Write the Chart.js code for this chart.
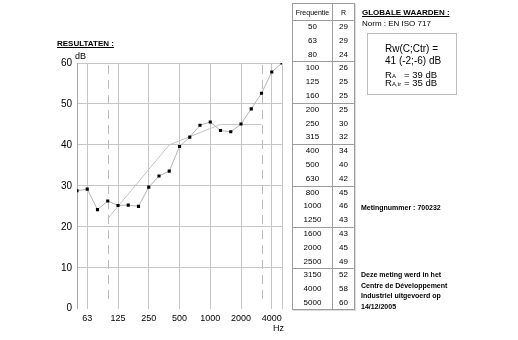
<!DOCTYPE html>
<html><head><meta charset="utf-8">
<script src="https://cdn.jsdelivr.net/npm/chart.js@4/dist/chart.umd.min.js"></script>
<style>
html,body{margin:0;padding:0;background:#fff;}
body{width:518px;height:340px;position:relative;overflow:hidden;font-family:"Liberation Sans",Arial,sans-serif;color:#000;}
#c{position:absolute;left:0;top:0;}
.abs{position:absolute;white-space:nowrap;}
.b{font-weight:bold;}
.u{text-decoration:underline;}
#tbl{position:absolute;left:292px;top:3px;width:63px;height:307px;box-sizing:border-box;border:1px solid #9c9c9c;box-shadow:1px 1px 0 #dcdcdc;}
.hl{position:absolute;left:0;right:0;height:0;border-top:1px solid #9c9c9c;}
.cell{position:absolute;text-align:center;font-size:8px;height:13.8px;line-height:13.8px;}
.hd{font-size:7px;}
.box{position:absolute;left:367px;top:33px;width:90px;height:62px;box-sizing:border-box;border:1px solid #bdbdbd;}
.bt{font-size:10px;line-height:12px;}
.bs{font-size:9.5px;line-height:9px;}
sub{font-size:6px;vertical-align:baseline;position:relative;top:0.5px;}
</style></head><body>
<canvas id="c" width="518" height="340"></canvas>

<div class="abs b u" style="left:57px;top:39px;font-size:8px;line-height:10px">RESULTATEN :</div>

<div id="tbl"></div>

<div class="abs b u" style="left:362px;top:8px;font-size:8px;line-height:10px">GLOBALE WAARDEN :</div>
<div class="abs" style="left:362px;top:18.5px;font-size:8px;line-height:10px">Norm : EN ISO 717</div>
<div class="box"></div>
<div class="abs bt" style="left:385px;top:43px">Rw(C;Ctr) =</div>
<div class="abs bt" style="left:385px;top:55px">41 (-2;-6) dB</div>
<div class="abs bs" style="left:385px;top:69.5px">R<sub>A</sub></div>
<div class="abs bs" style="left:404px;top:69.5px">= 39 dB</div>
<div class="abs bs" style="left:385px;top:77.5px">R<sub>A,tr</sub></div>
<div class="abs bs" style="left:404px;top:77.5px">= 35 dB</div>

<div class="abs b" style="left:361px;top:203px;font-size:7px;line-height:10px">Metingnummer : 700232</div>
<div class="abs b" style="left:361px;top:270px;font-size:7px;line-height:10.5px">Deze meting werd in het<br>Centre de Développement<br>Industriel uitgevoerd op<br>14/12/2005</div>

<script>
// ---- data ----
const frequencies = ['50','63','80','100','125','160','200','250','315','400','500','630','800','1000','1250','1600','2000','2500','3150','4000','5000'];
const tableR = [29,29,24,26,25,25,25,30,32,34,40,42,45,46,43,43,45,49,52,58,60];
const measured = [28.8,29.2,24.2,26.3,25.2,25.3,25.0,29.7,32.4,33.6,39.6,41.9,44.8,45.6,43.5,43.2,45.1,48.8,52.6,57.8,60.0];
const reference = [null,null,null,22,25,28,31,34,37,40,41,42,43,44,45,45,45,45,45,null,null];
const xTickLabels = {1:'63',4:'125',7:'250',10:'500',13:'1000',16:'2000',19:'4000'};
const dashedAt = [3,18];
const yTicks = [0,10,20,30,40,50,60];

// ---- table ----
const tbl = document.getElementById('tbl');
function add(cls, style, text){const d=document.createElement('div');d.className=cls;d.setAttribute('style',style);if(text!==undefined)d.textContent=text;tbl.appendChild(d);}
add('hl','top:16px');
for(let g=1; g<7; g++) add('hl','top:'+(16+g*3*13.8).toFixed(1)+'px');
add('abs','left:39px;top:0;bottom:0;border-left:1px solid #9c9c9c');
add('cell hd','left:0;width:39px;top:1px;height:15px;line-height:15px','Frequentie');
add('cell hd','left:40px;width:21px;top:1px;height:15px;line-height:15px','R');
frequencies.forEach((f,i)=>{
  const top=(16+i*13.8).toFixed(1);
  add('cell','left:0;width:39px;top:'+top+'px',f);
  add('cell','left:40px;width:21px;top:'+top+'px',String(tableR[i]));
});

// ---- chart ----
const gridColor = '#c6c6c6';
const extras = {
  id:'extras',
  beforeDatasetsDraw(chart){
    const {ctx, chartArea, scales:{x,y}} = chart;
    ctx.save();
    ctx.strokeStyle = '#bcbcbc';
    ctx.lineWidth = 1;
    ctx.setLineDash([9,6]);
    dashedAt.forEach(v=>{
      const px = Math.round(x.getPixelForValue(v))+0.5;
      ctx.beginPath();
      ctx.moveTo(px, y.getPixelForValue(60)+2);
      ctx.lineTo(px, y.getPixelForValue(2));
      ctx.stroke();
    });
    ctx.restore();
  },
  afterDraw(chart){
    const {ctx, chartArea} = chart;
    ctx.save();
    ctx.fillStyle = '#000';
    ctx.font = '9px "Liberation Sans", Arial, sans-serif';
    ctx.textBaseline = 'middle';
    ctx.textAlign = 'left';
    ctx.fillText('dB', chartArea.left - 2, chartArea.top - 6.5);
    ctx.textAlign = 'right';
    ctx.fillText('Hz', chartArea.right + 2, chartArea.bottom + 19.5);
    ctx.restore();
  }
};

new Chart(document.getElementById('c'), {
  type:'line',
  data:{
    labels: frequencies,
    datasets:[
      {data: reference.map((v,i)=>({x:i,y:v})), borderColor:'#c4c4c4', borderWidth:1, pointRadius:0, spanGaps:false, order:2},
      {data: measured.map((v,i)=>({x:i,y:v})), borderColor:'#b4b4b4', borderWidth:1, pointRadius:2.2, pointStyle:'rect', pointBackgroundColor:'#000', pointBorderWidth:0, order:1}
    ]
  },
  options:{
    responsive:false, animation:false, devicePixelRatio:1,
    layout:{padding:{left:50,right:236,top:63,bottom:0}},
    plugins:{legend:{display:false}, tooltip:{enabled:false}},
    elements:{line:{tension:0}},
    scales:{
      x:{
        type:'linear', min:0, max:20,
        afterBuildTicks(s){ s.ticks = [0,1,3,4,7,10,13,16,18,19,20].map(v=>({value:v})); },
        afterFit(s){ s.height = 31.3; },
        ticks:{autoSkip:false, maxRotation:0, padding:4, color:'#000', font:{family:'"Liberation Sans", Arial, sans-serif', size:9}, callback:(v)=>xTickLabels[v]||''},
        grid:{drawTicks:false, color:(c)=>(c.tick && dashedAt.includes(c.tick.value)) ? 'rgba(0,0,0,0)' : gridColor},
        border:{display:false}
      },
      y:{
        min:0, max:60,
        afterBuildTicks(s){ s.ticks = yTicks.map(v=>({value:v})); },
        afterFit(s){ s.width = 27; },
        ticks:{padding:5, color:'#000', font:{family:'"Liberation Sans", Arial, sans-serif', size:10}},
        grid:{drawTicks:false, color:(c)=>(c.tick && c.tick.value===0) ? 'rgba(0,0,0,0)' : gridColor},
        border:{display:true, color:'#a8a8a8'}
      }
    }
  },
  plugins:[extras]
});
</script>
</body></html>
